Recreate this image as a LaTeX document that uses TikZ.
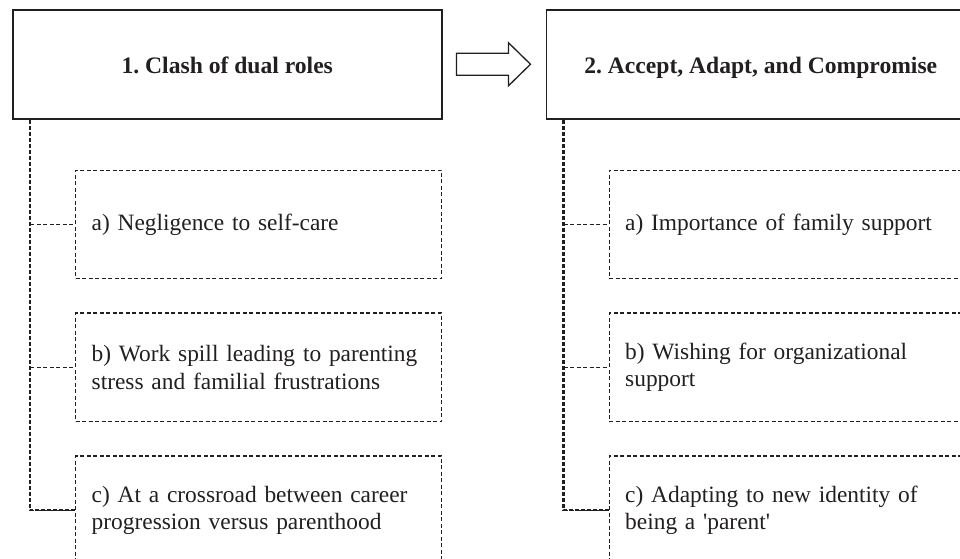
\documentclass[tikz,border=0pt]{standalone}
\usepackage{fontspec}
\setmainfont{Liberation Serif}
\usepackage{xcolor}
\usetikzlibrary{positioning,calc}
\definecolor{inkgray}{RGB}{35,31,32}
\frenchspacing
\tikzset{
  % Main theme box
  themebox/.style={rectangle, draw=inkgray, line width=1.5pt, align=center,
                   font=\fontsize{23.6}{28}\selectfont\bfseries, text=inkgray,
                   text height=18pt, text depth=0pt,
                   minimum width=429pt, minimum height=109pt, inner sep=0pt},
  % Sub-theme box
  subbox/.style={rectangle, draw=inkgray, line width=1.4pt,
                 dash pattern=on 4pt off 2.5pt, align=left,
                 font=\fontsize{23.4}{27.5}\selectfont, text=inkgray,
                 text width=334pt, inner xsep=16pt, inner ysep=0pt,
                 minimum height=108.5pt},
  % Connectors
  trunk/.style ={draw=inkgray, line width=2.2pt, dash pattern=on 4pt off 2pt},
  branch/.style={draw=inkgray, line width=1.5pt, dash pattern=on 4pt off 2.5pt},
  bigarr/.style={draw=inkgray, line width=1.3pt, fill=white, line join=miter},
}

\begin{document}
\begin{tikzpicture}[x=1pt,y=-1pt]

    \useasboundingbox (0,0) rectangle (960,558);
    \fill[white] (0,0) rectangle (960,558);
    \clip (0,0) rectangle (960,558);

    %% ── Theme 1 ────────────────────────────────────────────
    \node[themebox, anchor=north west] (t1) at (12,9) {1. Clash of dual roles};
    \node[subbox, anchor=north west] (a1) at ($(t1.south west)+(63,50)$)
         {a) Negligence to self-care};
    \node[subbox, below=33pt of a1] (b1)
         {b) Work spill leading to parenting\\stress and familial frustrations};
    \node[subbox, below=33pt of b1] (c1)
         {c) At a crossroad between career\\progression versus parenthood};

    %% ── Theme 2 ────────────────────────────────────────────
    \node[themebox, right=103pt of t1] (t2) {2. Accept, Adapt, and Compromise};
    \node[subbox, anchor=north west] (a2) at ($(t2.south west)+(63,50)$)
         {a) Importance of family support};
    \node[subbox, below=33pt of a2] (b2)
         {b) Wishing for organizational\\support};
    \node[subbox, below=33pt of b2] (c2)
         {c) Adapting to new identity of\\being a \textquotesingle parent\textquotesingle};

    %% ── Connectors ─────────────────────────────────────────
    \coordinate (s1) at ($(t1.south west)+(18,0)$);
    \coordinate (s2) at ($(t2.south west)+(18,0)$);
    \draw[trunk] (s1) |- (c1.west);
    \draw[trunk] (s2) |- (c2.west);
    \draw[branch] (s1 |- a1.west) -- (a1.west);
    \draw[branch] (s1 |- b1.west) -- (b1.west);
    \draw[branch] (s1 |- c1.west) -- (c1.west);
    \draw[branch] (s2 |- a2.west) -- (a2.west);
    \draw[branch] (s2 |- b2.west) -- (b2.west);
    \draw[branch] (s2 |- c2.west) -- (c2.west);

    %% ── Block arrow ────────────────────────────────────────
    \draw[bigarr] ($(t1.east)+(14,-11)$) -- ($(t1.east)+(66,-11)$)
         -- ($(t1.east)+(66,-21.5)$) -- ($(t1.east)+(88,0)$)
         -- ($(t1.east)+(66,21.5)$) -- ($(t1.east)+(66,11)$)
         -- ($(t1.east)+(14,11)$) -- cycle;

\end{tikzpicture}
\end{document}
